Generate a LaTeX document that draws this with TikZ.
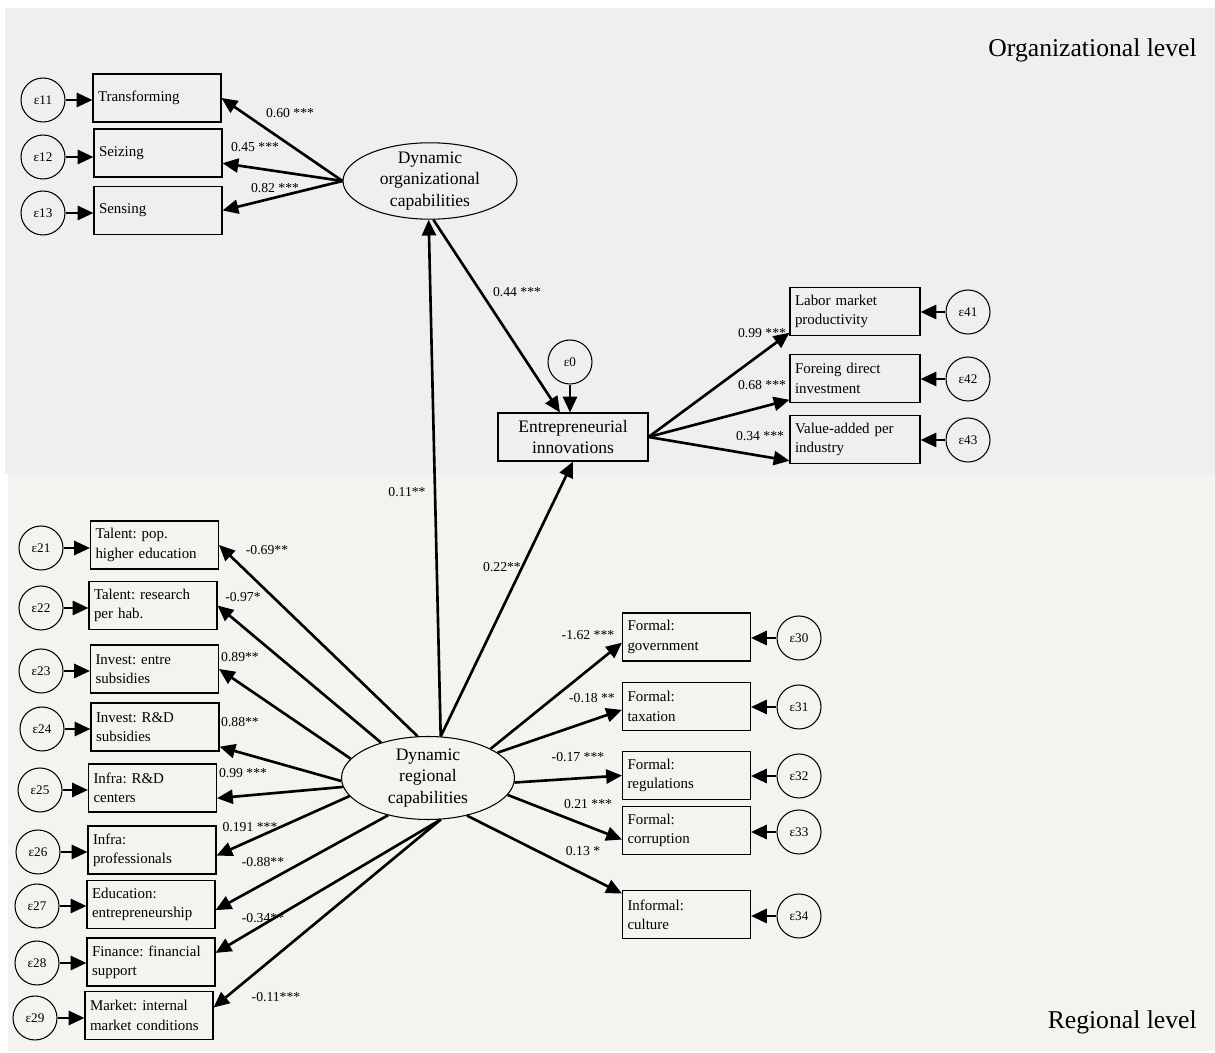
\documentclass[tikz,border=0pt]{standalone}
\usepackage{fontspec}
\setmainfont{Liberation Serif}
\usetikzlibrary{arrows.meta,shapes.geometric}
\definecolor{orgbg}{HTML}{EFEFEF}
\definecolor{regbg}{HTML}{F5F3EF}
\frenchspacing

\begin{document}
\begin{tikzpicture}[x=0.02cm, y=-0.02cm,
        measure/.style={rectangle, draw, line width=0.6pt, minimum width=2.56cm, minimum height=0.96cm, text width=2.36cm, inner xsep=0.1cm, align=left, font=\fontsize{8.5}{11}\selectfont},
        outcome/.style={rectangle, draw, line width=0.6pt, minimum width=3cm, minimum height=0.96cm, align=center, font=\fontsize{10}{11.5}\selectfont},
        latent/.style={ellipse, draw, line width=0.6pt, inner xsep=0pt, inner ysep=-1pt, align=center, font=\fontsize{10}{12}\selectfont},
        err/.style={circle, draw, line width=0.6pt, minimum size=0.88cm, inner sep=0pt, font=\fontsize{7.5}{9}\selectfont},
        coef/.style={inner sep=1pt, font=\fontsize{7.8}{9}\selectfont},
        level/.style={anchor=base east, inner sep=0pt, font=\fontsize{14.6}{17}\selectfont},
        arrow/.style={-{Triangle[length=9pt,width=8pt]}, line width=1.5pt}
    ]
        \useasboundingbox (0,0) rectangle (1215,1053);
        % Level backgrounds
        \fill[orgbg] (5,8) rectangle (1215,474);
        \fill[regbg] (8,474) rectangle (1215,1051);
        \node[level] (orglevel) at (1197,57) {Organizational level};
        \node[level] (reglevel) at (1197,1029) {Regional level};

        % Latent constructs
        \node[latent, minimum width=3.48cm, minimum height=1.52cm] (org) at (430,181) {Dynamic\\organizational\\capabilities};
        \node[latent, minimum width=3.46cm, minimum height=1.66cm] (reg) at (428,778) {Dynamic\\regional\\capabilities};
        \node[outcome] (ent) at (573,437) {Entrepreneurial\\innovations};
        \node[err] (e0) at (570,362) {ε0};

        % Organizational indicators
        \node[measure] (tra) at (157,98) {Transforming};
        \node[measure] (sei) at (158,153) {Seizing};
        \node[measure] (sen) at (158,210.5) {Sensing};
        \node[err] (e11) at (43,100) {ε11};
        \node[err] (e12) at (43,157) {ε12};
        \node[err] (e13) at (43,213) {ε13};

        % Innovation indicators
        \node[measure, minimum width=2.6cm, text width=2.4cm] (lab) at (855,311.5) {Labor market\\productivity};
        \node[measure, minimum width=2.6cm, text width=2.4cm] (fdi) at (855,378.5) {Foreing direct\\investment};
        \node[measure, minimum width=2.6cm, text width=2.4cm] (val) at (855,439.5) {Value-added per\\industry};
        \node[err] (e41) at (968,312) {ε41};
        \node[err] (e42) at (968,379) {ε42};
        \node[err] (e43) at (968,440) {ε43};

        % Regional indicators (left)
        \node[measure] (tal1) at (154.5,545) {Talent: pop.\\higher education};
        \node[measure] (tal2) at (153,605.5) {Talent: research\\per hab.};
        \node[measure] (inv1) at (154.5,669) {Invest: entre\\subsidies};
        \node[measure] (inv2) at (155,727) {Invest: R\&D\\subsidies};
        \node[measure] (inf1) at (152.5,788) {Infra: R\&D\\centers};
        \node[measure] (inf2) at (152,850) {Infra:\\professionals};
        \node[measure] (edu) at (151,904.5) {Education:\\entrepreneurship};
        \node[measure] (fin) at (151,962) {Finance: financial\\support};
        \node[measure] (mkt) at (149,1015.5) {Market: internal\\market conditions};
        \node[err] (e21) at (41,548) {ε21};
        \node[err] (e22) at (41,608) {ε22};
        \node[err] (e23) at (41,671) {ε23};
        \node[err] (e24) at (42,729) {ε24};
        \node[err] (e25) at (40,790) {ε25};
        \node[err] (e26) at (38,852) {ε26};
        \node[err] (e27) at (37,906) {ε27};
        \node[err] (e28) at (37,963) {ε28};
        \node[err] (e29) at (35,1018) {ε29};

        % Regional indicators (right)
        \node[measure] (gov) at (686.5,637) {Formal:\\government};
        \node[measure] (tax) at (686.5,706.5) {Formal:\\taxation};
        \node[measure] (regu) at (686.5,775.5) {Formal:\\regulations};
        \node[measure] (cor) at (686.5,830.5) {Formal:\\corruption};
        \node[measure] (cul) at (686.5,914.5) {Informal:\\culture};
        \node[err] (e30) at (799,638) {ε30};
        \node[err] (e31) at (799,707) {ε31};
        \node[err] (e32) at (799,776) {ε32};
        \node[err] (e33) at (799,832) {ε33};
        \node[err] (e34) at (799,916) {ε34};

        % Error terms
        \draw[arrow] (e11) -- (e11 -| tra.west);
        \draw[arrow] (e12) -- (e12 -| sei.west);
        \draw[arrow] (e13) -- (e13 -| sen.west);
        \draw[arrow] (e0) -- (e0 |- ent.north);
        \draw[arrow] (e41) -- (e41 -| lab.east);
        \draw[arrow] (e42) -- (e42 -| fdi.east);
        \draw[arrow] (e43) -- (e43 -| val.east);
        \draw[arrow] (e21) -- (e21 -| tal1.west);
        \draw[arrow] (e22) -- (e22 -| tal2.west);
        \draw[arrow] (e23) -- (e23 -| inv1.west);
        \draw[arrow] (e24) -- (e24 -| inv2.west);
        \draw[arrow] (e25) -- (e25 -| inf1.west);
        \draw[arrow] (e26) -- (e26 -| inf2.west);
        \draw[arrow] (e27) -- (e27 -| edu.west);
        \draw[arrow] (e28) -- (e28 -| fin.west);
        \draw[arrow] (e29) -- (e29 -| mkt.west);
        \draw[arrow] (e30) -- (e30 -| gov.east);
        \draw[arrow] (e31) -- (e31 -| tax.east);
        \draw[arrow] (e32) -- (e32 -| regu.east);
        \draw[arrow] (e33) -- (e33 -| cor.east);
        \draw[arrow] (e34) -- (e34 -| cul.east);

        % Loadings and paths
        \draw[arrow] (org.west) -- (tra.east);
        \draw[arrow] (org.west) -- (sei.-9);
        \draw[arrow] (org.west) -- (sen.east);
        \draw[arrow] (org.275) -- (ent.118);
        \draw[arrow] (reg.73) -- (org.268);
        \draw[arrow] (reg.73) -- (ent.south);
        \draw[arrow] (ent.east) -- (lab.198);
        \draw[arrow] (ent.east) -- (fdi.198);
        \draw[arrow] (ent.east) -- (val.198);
        \draw[arrow] (reg.104) -- (tal1.east);
        \draw[arrow] (reg.143) -- (tal2.east);
        \draw[arrow] (reg.166) -- (inv1.east);
        \draw[arrow] (reg.182) -- (inv2.-17);
        \draw[arrow] (reg.186) -- (inf1.-9);
        \draw[arrow] (reg.193) -- (inf2.-5);
        \draw[arrow] (reg.223) -- (edu.-5);
        \draw[arrow] (reg.287) -- (fin.8);
        \draw[arrow] (reg.287) -- (mkt.7);
        \draw[arrow] (reg.25) -- (gov.185);
        \draw[arrow] (reg.20) -- (tax.183);
        \draw[arrow] (reg.357) -- (regu.west);
        \draw[arrow] (reg.348) -- (cor.188);
        \draw[arrow] (reg.316) -- (cul.162);

        % Coefficients
        \node[coef] (wtra) at (290,113) {0.60 ***};
        \node[coef] (wsei) at (255,147) {0.45 ***};
        \node[coef] (wsen) at (275,188) {0.82 ***};
        \node[coef] (went) at (517,292) {0.44 ***};
        \node[coef] (wlab) at (762,333) {0.99 ***};
        \node[coef] (wfdi) at (762,385) {0.68 ***};
        \node[coef] (wval) at (760,436) {0.34 ***};
        \node[coef] (worg) at (407,492) {0.11**};
        \node[coef] (wreg) at (502,567) {0.22**};
        \node[coef] (wtal1) at (267,550) {-0.69**};
        \node[coef] (wtal2) at (243,597) {-0.97*};
        \node[coef] (winv1) at (240,657) {0.89**};
        \node[coef] (winv2) at (240,722) {0.88**};
        \node[coef] (winf1) at (243,773) {0.99 ***};
        \node[coef] (winf2) at (250,827) {0.191 ***};
        \node[coef] (wedu) at (263,862) {-0.88**};
        \node[coef] (wfin) at (263,918) {-0.34**};
        \node[coef] (wmkt) at (276,997) {-0.11***};
        \node[coef] (wgov) at (588,635) {-1.62 ***};
        \node[coef] (wtax) at (592,698) {-0.18 **};
        \node[coef] (wregu) at (578,757) {-0.17 ***};
        \node[coef] (wcor) at (588,804) {0.21 ***};
        \node[coef] (wcul) at (583,851) {0.13 *};
    \end{tikzpicture}
\end{document}
